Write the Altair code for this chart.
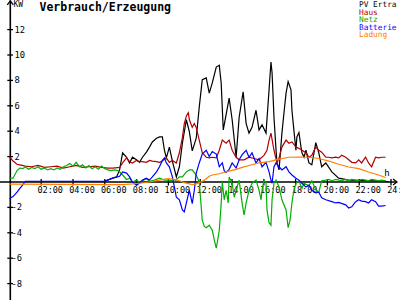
import altair as alt
import pandas as pd

TITLE = "Verbrauch/Erzeugung"
UNIT = "KW"
LEGEND_NAMES = ["PV Ertra", "Haus", "Netz", "Batterie", "Ladung"]
COLORS = ["#000000", "#b00000", "#00b000", "#0000ff", "#ff8000"]

x_tick_hours = [2, 4, 6, 8, 10, 12, 14, 16, 18, 20, 22, 24]
x_tick_labels = ["02:00", "04:00", "06:00", "08:00", "10:00", "12:00",
                 "14:00", "16:00", "18:00", "20:00", "22:00", "24:00"]
y_pos_ticks = [12, 10, 8, 6, 4, 2]
y_neg_ticks = [-2, -4, -6, -8]

pv_h = [5.86, 6.49, 6.74, 6.93, 7.12, 7.37, 7.56, 7.74, 7.99, 8.18, 8.37, 8.62, 8.81, 8.99, 9.25,
        9.44, 9.62, 9.75, 9.87, 10.06, 10.25, 10.50, 10.69, 10.88, 11.13, 11.32, 11.50, 11.75, 11.94, 12.13,
        12.38, 12.57, 12.76, 13.01, 13.20, 13.32, 13.45, 13.63, 13.82, 14.01, 14.26, 14.45, 14.70, 14.89, 15.07,
        15.26, 15.51, 15.70, 15.89, 16.14, 16.33, 16.45, 16.52, 16.64, 16.77, 16.83, 16.96, 17.14, 17.27, 17.40,
        17.53, 17.71, 17.77, 17.89, 18.02, 18.08, 18.21, 18.34, 18.40, 18.53, 18.65, 18.84, 19.02, 19.27, 19.46,
        19.64, 19.90, 20.28, 20.71, 21.34, 23.60, 23.85]
pv_kw = [0.0, 0.3, 0.4, 0.95, 2.3, 1.95, 1.5, 1.95, 1.75, 1.55, 1.95, 2.35, 2.75, 3.15, 3.45,
         3.55, 3.55, 2.5, 1.9, 2.75, 1.65, 0.4, 1.2, 3.05, 4.9, 3.95, 2.45, 3.45, 5.9, 8.05,
         8.2, 7.0, 7.8, 9.05, 9.2, 7.8, 4.1, 5.3, 6.6, 4.9, 1.95, 5.1, 7.1, 4.6, 3.85,
         4.3, 5.65, 4.1, 4.5, 3.85, 7.25, 9.45, 8.6, 5.1, 2.5, 1.5, 0.95, 3.85, 5.45, 7.0,
         7.9, 7.25, 5.65, 4.1, 2.5, 3.55, 3.9, 2.75, 2.3, 1.95, 2.5, 1.5, 1.35, 3.1, 2.3,
         1.2, 1.5, 0.8, 0.3, 0.15, 0.08, 0.0]

haus_h = [0.0, 0.23, 0.48, 0.66, 1.0, 1.4, 1.8, 2.2, 2.6, 3.0, 3.4, 3.8, 4.2, 4.6, 5.0,
          5.4, 5.8, 6.2, 6.5, 6.93, 7.12, 7.37, 7.56, 7.74, 7.99, 8.18, 8.37, 8.62, 8.81, 8.99,
          9.25, 9.44, 9.62, 9.87, 10.06, 10.25, 10.50, 10.69, 10.88, 11.00, 11.13, 11.25, 11.32, 11.50, 11.63,
          11.75, 11.94, 12.13, 12.38, 12.57, 12.76, 13.01, 13.20, 13.39, 13.63, 13.82, 14.01, 14.26, 14.45, 14.76,
          15.07, 15.39, 15.70, 16.01, 16.20, 16.33, 16.45, 16.64, 16.83, 16.96, 17.14, 17.40, 17.58, 17.77, 18.02,
          18.21, 18.40, 18.65, 18.84, 19.02, 19.27, 19.46, 19.64, 19.90, 20.09, 20.28, 20.53, 20.71, 20.90, 21.15,
          21.34, 21.53, 21.78, 21.97, 22.15, 22.40, 22.59, 22.78, 23.03, 23.22, 23.41, 23.66]
haus_kw = [2.0, 1.65, 1.4, 1.35, 1.25, 1.2, 1.3, 1.15, 1.2, 1.25, 1.1, 1.2, 1.3, 1.15, 1.2,
           1.25, 1.15, 1.1, 1.1, 1.15, 1.5, 1.9, 1.6, 1.5, 1.7, 1.6, 1.6, 1.55, 1.7, 1.65,
           1.6, 1.55, 1.65, 1.9, 1.55, 1.7, 1.5, 2.3, 3.5, 4.6, 5.2, 5.45, 4.9, 4.3, 4.6,
           4.3, 3.3, 2.3, 1.95, 1.9, 1.95, 1.9, 2.5, 3.3, 3.05, 3.3, 2.5, 1.95, 1.75, 1.75,
           1.95, 1.85, 1.75, 2.1, 2.5, 3.3, 3.85, 2.5, 1.5, 1.9, 2.75, 3.3, 3.05, 3.15, 2.75,
           2.65, 2.5, 2.3, 1.95, 2.1, 2.75, 2.5, 2.35, 1.95, 1.95, 1.9, 1.95, 1.9, 2.1, 1.95,
           1.75, 1.55, 1.5, 1.75, 1.5, 1.95, 1.5, 1.2, 1.95, 1.9, 1.95, 1.95]

netz_h = [0.0, 0.23, 0.48, 0.66, 0.85, 1.0, 1.2, 1.4, 1.6, 1.8, 2.0, 2.2, 2.4, 2.6, 2.8,
          3.0, 3.2, 3.4, 3.6, 3.8, 4.0, 4.2, 4.4, 4.6, 4.8, 5.0, 5.2, 5.4, 5.6, 5.8,
          6.0, 6.2, 6.4, 6.6, 6.8, 6.93, 7.12, 7.37, 7.56, 7.74, 7.99, 8.18, 8.62, 8.81, 9.12,
          9.44, 9.75, 10.06, 10.38, 10.69, 10.88, 11.13, 11.32, 11.50, 11.75, 11.94, 12.13, 12.26, 12.38, 12.57,
          12.76, 12.89, 13.01, 13.07, 13.20, 13.32, 13.39, 13.51, 13.63, 13.76, 13.82, 14.01, 14.14, 14.26, 14.45,
          14.64, 14.76, 14.89, 15.07, 15.26, 15.51, 15.70, 15.83, 15.89, 16.01, 16.14, 16.20, 16.33, 16.45, 16.52,
          16.64, 16.77, 16.96, 17.14, 17.40, 17.53, 17.65, 17.77, 17.89, 18.02, 18.21, 18.40, 18.53, 18.84, 19.02,
          19.27, 19.46, 19.64, 19.90, 20.09, 20.28, 20.53, 20.71, 20.90, 21.15, 21.34, 21.53, 21.78, 21.97, 22.15,
          22.40, 22.59, 22.78, 23.03, 23.22, 23.41, 23.66]
netz_kw = [0.3, 0.3, 0.9, 1.1, 1.05, 1.2, 1.0, 1.15, 1.05, 1.2, 1.0, 1.1, 0.95, 1.05, 0.95,
           1.1, 1.0, 1.2, 1.3, 1.45, 1.25, 1.55, 1.2, 1.35, 1.1, 1.3, 1.05, 1.2, 1.0, 1.25,
           1.05, 0.95, 0.9, 0.95, 0.9, 0.8, 0.55, 0.2, 0.3, 0.0, 0.15, 0.0, 0.25, 0.05, 0.15,
           0.3, 0.15, 0.15, 0.05, 0.4, 0.4, 0.8, 0.95, 0.95, 0.55, 0.0, -3.0, -3.5, -3.6, -3.4,
           -3.8, -4.6, -5.2, -4.8, -3.8, -1.7, 0.0, -1.4, -0.65, -1.65, 0.4, -0.1, -1.2, -0.65, 0.15,
           -1.7, -2.6, -1.65, -0.65, -0.1, 0.15, -0.65, -1.4, -0.65, 0.15, -0.1, -2.2, -3.2, -3.4, -1.4,
           -0.1, 0.15, -0.4, -1.4, -2.2, -3.6, -3.0, -1.65, -0.65, -0.1, 0.1, -0.5, -0.1, -0.3, 0.1,
           -0.6, -0.8, 0.1, 0.15, 0.2, 0.1, 0.2, 0.15, 0.1, 0.2, 0.1, 0.2, 0.15, 0.1, 0.2,
           0.15, 0.1, 0.2, 0.15, 0.1, 0.15, 0.1]

batt_h = [0.0, 0.23, 0.48, 0.66, 0.85, 1.0, 5.99, 6.49, 6.93, 7.12, 7.37, 7.56, 7.74, 7.99, 8.18,
          8.37, 8.62, 8.81, 8.99, 9.25, 9.44, 9.62, 9.75, 9.87, 10.06, 10.25, 10.38, 10.50, 10.69, 10.88,
          11.00, 11.13, 11.32, 11.50, 11.63, 11.75, 11.94, 12.13, 12.38, 12.57, 12.76, 13.01, 13.20, 13.39, 13.51,
          13.63, 13.82, 14.01, 14.26, 14.45, 14.64, 14.89, 15.07, 15.26, 15.51, 15.70, 15.89, 16.14, 16.33, 16.45,
          16.52, 16.64, 16.77, 16.96, 17.14, 17.40, 17.58, 17.77, 18.02, 18.21, 18.40, 18.65, 18.84, 19.02, 19.27,
          19.46, 19.64, 19.90, 20.28, 20.53, 20.71, 21.15, 21.34, 21.53, 21.78, 21.97, 22.15, 22.40, 22.59, 22.78,
          23.03, 23.22, 23.41, 23.66]
batt_kw = [-1.3, -1.15, -0.8, -0.5, -0.2, 0.05, 0.05, 0.3, 0.45, 0.8, 0.7, 0.4, 0.0, -0.25, -0.1,
           0.15, 0.3, 0.15, 0.4, 0.8, 1.2, 1.7, 1.9, 1.5, 1.2, 0.4, -0.4, -1.2, -1.4, -2.2,
           -2.35, -1.65, -0.65, -1.7, -0.65, 0.7, 1.5, 2.2, 2.5, 2.0, 2.4, 2.2, 1.2, 1.5, 0.9,
           0.75, 1.0, 1.5, 1.1, 1.75, 2.15, 2.5, 1.95, 2.3, 1.5, 1.85, 1.2, 1.55, 0.8, 0.15,
           -0.1, 1.2, 1.5, 1.2, 0.95, 1.2, 0.8, 0.55, 0.3, 0.15, -0.1, -0.4, -0.25, -0.65, -0.85,
           -0.8, -1.25, -1.4, -1.55, -1.65, -1.6, -1.8, -2.05, -1.95, -1.55, -1.4, -1.5, -1.55, -1.65, -1.4,
           -1.55, -1.9, -1.9, -1.85]

lad_h = [0.0, 7.12, 7.74, 8.18, 8.81, 9.44, 9.87, 10.25, 10.69, 11.00, 11.32, 11.50, 11.75, 11.94, 12.13,
         12.38, 12.57, 12.76, 13.20, 13.82, 14.26, 14.64, 15.07, 15.70, 16.33, 16.96, 17.58, 18.21, 18.84, 19.46,
         20.09, 20.71, 21.34, 21.97, 22.59, 23.22, 23.66]
lad_kw = [-0.16, -0.2, -0.15, -0.1, 0.0, 0.15, 0.25, 0.25, 0.1, -0.05, -0.15, -0.2, -0.15, -0.05, 0.05,
          0.25, 0.45, 0.55, 0.65, 0.85, 1.0, 1.15, 1.3, 1.5, 1.6, 1.8, 1.95, 1.97, 1.95, 1.85,
          1.65, 1.4, 1.18, 1.05, 0.79, 0.55, 0.35]

FONT = "DejaVu Sans Mono"
X_SCALE = alt.Scale(domain=[0, 24], range=[9.4, 391.0], nice=False, zero=False)
Y_SCALE = alt.Scale(domain=[-8, 12], range=[283.6, 29.6], nice=False, zero=False)
one = pd.DataFrame({"a": [0]})

layers = []

# axes
layers.append(alt.Chart(pd.DataFrame({"v": [0]})).mark_rule(color="black", strokeWidth=1.5).encode(
    x=alt.value(0), x2=alt.value(397), y=alt.Y("v:Q", scale=Y_SCALE, axis=None)))
layers.append(alt.Chart(one).mark_rule(color="black", strokeWidth=1.6).encode(
    x=alt.value(10.3), y=alt.value(0.5), y2=alt.value(300)))
layers.append(alt.Chart(one).mark_point(shape="M-0.75,1L0,0L0.75,1", size=64, filled=False,
                                       color="black", strokeWidth=1.2, opacity=1).encode(
    x=alt.value(10.3), y=alt.value(0.8)))
layers.append(alt.Chart(pd.DataFrame({"v": [0]})).mark_point(shape="M-1,-0.75L0,0L-1,0.75", size=64, filled=False,
                                       color="black", strokeWidth=1.2, opacity=1).encode(
    x=alt.value(397), y=alt.Y("v:Q", scale=Y_SCALE, axis=None)))

# y ticks + labels
yt = pd.DataFrame({"v": y_pos_ticks + y_neg_ticks})
layers.append(alt.Chart(yt).mark_rule(color="black", strokeWidth=1.3).encode(
    x=alt.value(7.3), x2=alt.value(13), y=alt.Y("v:Q", scale=Y_SCALE, axis=None)))
layers.append(alt.Chart(pd.DataFrame({"v": y_pos_ticks, "t": [str(v) for v in y_pos_ticks]})).mark_text(
    font=FONT, fontSize=8.8, align="left", baseline="middle", color="black").encode(
    x=alt.value(14.5), y=alt.Y("v:Q", scale=Y_SCALE, axis=None), text="t:N"))
layers.append(alt.Chart(pd.DataFrame({"v": y_neg_ticks, "t": [str(v) for v in y_neg_ticks]})).mark_text(
    font=FONT, fontSize=8.8, align="left", baseline="middle", color="black").encode(
    x=alt.value(11.5), y=alt.Y("v:Q", scale=Y_SCALE, axis=None), text="t:N"))
layers.append(alt.Chart(pd.DataFrame({"t": [UNIT]})).mark_text(
    font=FONT, fontSize=8, align="left", baseline="middle", color="black").encode(
    x=alt.value(13.5), y=alt.value(5), text="t:N"))

# x ticks + labels
xt = pd.DataFrame({"h": x_tick_hours, "t": x_tick_labels})
layers.append(alt.Chart(xt).mark_rule(color="black", strokeWidth=1.3).encode(
    x=alt.X("h:Q", scale=X_SCALE, axis=None), y=alt.value(179), y2=alt.value(185.5)))
layers.append(alt.Chart(xt).mark_text(font=FONT, fontSize=8.5, align="left", baseline="middle",
                                      color="black", dx=-3.8).encode(
    x=alt.X("h:Q", scale=X_SCALE, axis=None), y=alt.value(190), text="t:N"))
layers.append(alt.Chart(pd.DataFrame({"t": ["h"]})).mark_text(
    font=FONT, fontSize=9, align="center", baseline="middle", color="black").encode(
    x=alt.value(387), y=alt.value(172.5), text="t:N"))

# data lines
for name, hs, vs, col in [
    (LEGEND_NAMES[0], pv_h, pv_kw, COLORS[0]),
    (LEGEND_NAMES[1], haus_h, haus_kw, COLORS[1]),
    (LEGEND_NAMES[2], netz_h, netz_kw, COLORS[2]),
    (LEGEND_NAMES[3], batt_h, batt_kw, COLORS[3]),
    (LEGEND_NAMES[4], lad_h, lad_kw, COLORS[4]),
]:
    df = pd.DataFrame({"h": hs, "kw": vs})
    layers.append(alt.Chart(df).mark_line(color=col, strokeWidth=1.2).encode(
        x=alt.X("h:Q", scale=X_SCALE, axis=None),
        y=alt.Y("kw:Q", scale=Y_SCALE, axis=None)))

# title
layers.append(alt.Chart(pd.DataFrame({"t": [TITLE]})).mark_text(
    font=FONT, fontSize=11.5, fontWeight="bold", align="left", baseline="alphabetic", color="black").encode(
    x=alt.value(39.5), y=alt.value(11), text="t:N"))

# legend
for i, (name, col) in enumerate(zip(LEGEND_NAMES, COLORS)):
    layers.append(alt.Chart(pd.DataFrame({"t": [name]})).mark_text(
        font=FONT, fontSize=7.8, align="left", baseline="middle", color=col).encode(
        x=alt.value(359), y=alt.value(5 + 7.6 * i), text="t:N"))

chart = alt.layer(*layers).properties(
    width=400, height=300, autosize="none", padding=0, background="white"
).configure_view(strokeWidth=0)

chart.save("out.html", embed_options={"renderer": "svg", "actions": False})
